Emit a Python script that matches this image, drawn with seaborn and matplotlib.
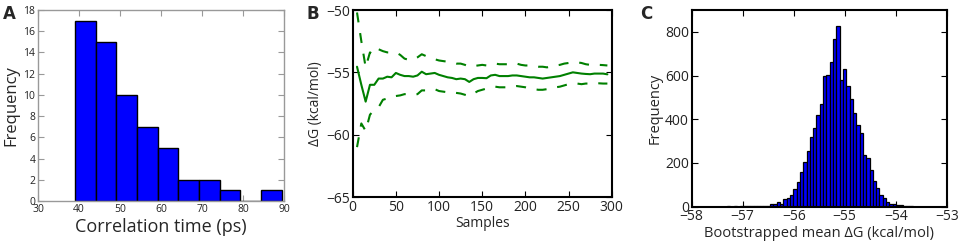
import numpy as np
import pandas as pd
import matplotlib
matplotlib.use("Agg")
import matplotlib.pyplot as plt
import seaborn as sns

# panel A: correlation time histogram
corr_bin_start = 39.0
corr_bin_width = 5.04
corr_counts = [17, 15, 10, 7, 5, 2, 2, 1, 0, 1]

# panel B: running estimate of dG with error band
samples = list(range(5, 300, 5))
dg_mean = [-54.55, -56.0, -57.35, -56.0, -56.0, -55.5, -55.5, -55.35, -55.4, -55.05,
           -55.2, -55.3, -55.3, -55.35, -55.25, -54.95, -55.15, -55.1, -55.05, -55.2,
           -55.3, -55.4, -55.45, -55.55, -55.5, -55.55, -55.77, -55.55, -55.45, -55.45,
           -55.47, -55.25, -55.2, -55.3, -55.3, -55.3, -55.25, -55.25, -55.3, -55.35,
           -55.4, -55.4, -55.45, -55.5, -55.45, -55.4, -55.35, -55.3, -55.2, -55.1,
           -55.0, -55.05, -55.1, -55.13, -55.15, -55.1, -55.1, -55.1, -55.16]
dg_upper = [-50.2, -52.5, -54.6, -53.4, -53.6, -53.15, -53.3, -53.4, -53.4, -53.4,
            -53.6, -53.9, -54.0, -54.0, -53.8, -53.55, -53.7, -53.85, -53.95, -54.05,
            -54.1, -54.15, -54.2, -54.3, -54.3, -54.4, -54.55, -54.5, -54.45, -54.4,
            -54.45, -54.4, -54.3, -54.35, -54.35, -54.35, -54.3, -54.3, -54.4, -54.45,
            -54.45, -54.5, -54.55, -54.55, -54.6, -54.55, -54.45, -54.4, -54.3, -54.25,
            -54.2, -54.2, -54.25, -54.35, -54.4, -54.4, -54.4, -54.42, -54.45]
dg_lower = [-61.0, -59.1, -59.7, -58.4, -58.0, -57.8, -57.2, -57.1, -56.95, -56.9,
            -56.85, -56.75, -56.75, -56.8, -56.75, -56.45, -56.45, -56.45, -56.35, -56.5,
            -56.55, -56.6, -56.6, -56.65, -56.7, -56.8, -56.9, -56.7, -56.5, -56.4,
            -56.3, -56.2, -56.15, -56.2, -56.2, -56.2, -56.15, -56.1, -56.15, -56.2,
            -56.3, -56.35, -56.4, -56.4, -56.35, -56.3, -56.2, -56.15, -56.05, -55.95,
            -55.9, -55.9, -55.95, -55.9, -55.9, -55.88, -55.88, -55.9, -55.9]

# panel C: bootstrapped mean dG histogram
boot_bin_start = -57.308
boot_bin_width = 0.065
boot_counts = [1, 0, 1, 0, 1, 1, 2, 2, 3, 3, 4, 4, 5, 11, 11, 20, 13, 34, 38,
               53, 81, 114, 160, 206, 255, 320, 358, 419, 468, 597, 602, 663, 766, 826,
               579, 628, 553, 495, 427, 373, 335, 236, 221, 168, 119, 84, 53, 41, 20,
               12, 11, 9, 6, 3, 2, 1]

sns.set_style("ticks")
plt.rcParams['font.family'] = ['Open Sans', 'DejaVu Sans']
plt.rcParams['axes.unicode_minus'] = True

W, H = 965, 243
fig = plt.figure(figsize=(W / 100, H / 100), dpi=100)


def box(l, t, r, b):
    return [l / W, (H - b) / H, (r - l) / W, (b - t) / H]


def style_ax(ax, spine_col, lw, fs):
    for s in ax.spines.values():
        s.set_visible(True)
        s.set_color(spine_col)
        s.set_linewidth(lw)
    ax.tick_params(direction="in", top=True, right=True, length=4, width=0.8,
                   labelsize=fs, colors=spine_col, labelcolor="#222222", pad=2)


def hist_from_counts(ax, start, width, counts, lw):
    n = len(counts)
    centers = start + width * (np.arange(n) + 0.5)
    df = pd.DataFrame({"x": centers, "n": counts})
    sns.histplot(data=df, x="x", weights="n", binwidth=width,
                 binrange=(start, start + width * n), ax=ax, color="#0000ff",
                 edgecolor="black", linewidth=lw, alpha=1)


# ---- A
axA = fig.add_axes(box(38, 10, 284, 201))
hist_from_counts(axA, corr_bin_start, corr_bin_width, corr_counts, 1.0)
axA.set_xlim(30, 90)
axA.set_ylim(0, 18)
axA.set_xticks(range(30, 91, 10))
axA.set_yticks(range(0, 19, 2))
style_ax(axA, "#999999", 1.0, 7.5)
axA.set_xlabel("Correlation time (ps)", fontsize=13, labelpad=2)
axA.set_ylabel("Frequency", fontsize=12, labelpad=3)

# ---- B
axB = fig.add_axes(box(352.7, 10, 611.7, 197))
dfb = pd.DataFrame({"s": samples, "m": dg_mean, "u": dg_upper, "l": dg_lower})
green = (0, 0.5, 0)
sns.lineplot(data=dfb, x="s", y="m", ax=axB, color=green, lw=1.5)
sns.lineplot(data=dfb, x="s", y="u", ax=axB, color=green, lw=1.5, dashes=(4.8, 5.2))
sns.lineplot(data=dfb, x="s", y="l", ax=axB, color=green, lw=1.5, dashes=(4.8, 5.2))
axB.set_xlim(0, 300)
axB.set_ylim(-65, -50)
axB.set_xticks(range(0, 301, 50))
axB.set_yticks([-65, -60, -55, -50])
style_ax(axB, "black", 1.5, 10)
axB.set_xlabel("Samples", fontsize=10, labelpad=1)
axB.set_ylabel("ΔG (kcal/mol)", fontsize=10, labelpad=2)

# ---- C
axC = fig.add_axes(box(691.7, 10, 946.7, 206.7))
hist_from_counts(axC, boot_bin_start, boot_bin_width, boot_counts, 0.9)
axC.set_xlim(-58, -53)
axC.set_ylim(0, 900)
axC.set_xticks(range(-58, -52))
axC.set_yticks(range(0, 801, 200))
style_ax(axC, "black", 1.5, 10)
axC.set_xlabel("Bootstrapped mean ΔG (kcal/mol)", fontsize=10.5, labelpad=1)
axC.set_ylabel("Frequency", fontsize=10.5, labelpad=2)

for lab, x, y in [("A", 3, 5), ("B", 307, 5), ("C", 640, 5)]:
    fig.text(x / W, 1 - y / H, lab, fontsize=12, fontweight="bold", va="top",
             ha="left", family="DejaVu Sans")

fig.savefig("out.png", dpi=100)
